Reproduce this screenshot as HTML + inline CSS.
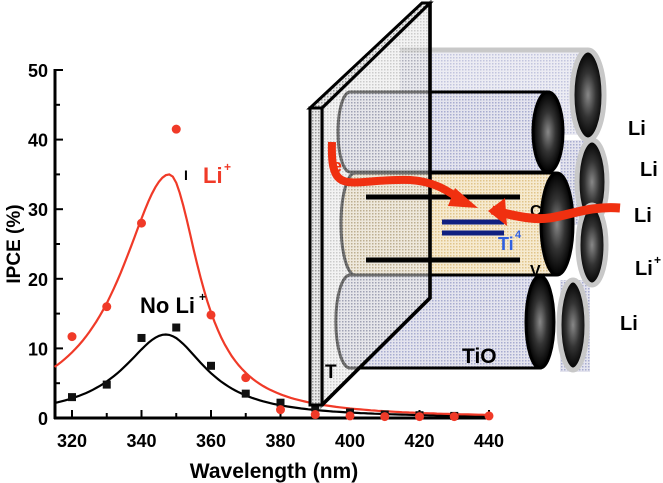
<!DOCTYPE html>
<html><head><meta charset="utf-8"><style>
body{margin:0;background:#fff;width:663px;height:483px;overflow:hidden}
svg{display:block;font-family:"Liberation Sans",sans-serif;font-weight:bold}
</style></head><body>
<svg id="s" width="663" height="483" viewBox="0 0 663 483">
<defs>
<pattern id="dot" width="3" height="3" patternUnits="userSpaceOnUse"><rect width="3" height="3" fill="#e4e4ee"/><rect width="1.5" height="1.5" fill="#a8acd0"/></pattern>
<pattern id="dotg" width="3" height="3" patternUnits="userSpaceOnUse"><rect width="3" height="3" fill="#e8e8e8"/><rect width="1.5" height="1.5" fill="#999"/></pattern>
<pattern id="doto" width="3" height="3" patternUnits="userSpaceOnUse"><rect width="3" height="3" fill="#f6ead0"/><rect width="1.5" height="1.5" fill="#e0c48a"/></pattern>
<radialGradient id="hole" cx="0.5" cy="0.5" r="0.5"><stop offset="0" stop-color="#888"/><stop offset="0.5" stop-color="#333"/><stop offset="1" stop-color="#000"/></radialGradient>
</defs>
<g id="plot"></g>
<g stroke-width="5" stroke="#c8c8c8">
<path d="M400 50 H588 V135 H400 Z" fill="url(#dot)" stroke="none" opacity="0.7"/>
<path d="M400 50 H588" fill="none"/>
<path d="M560 140 H592 V225 H560 Z" fill="url(#dot)" stroke="none"/>
<path d="M560 280 H590 V372 H560 Z" fill="url(#dot)" stroke="none"/>
<ellipse cx="588" cy="95" rx="16" ry="45" fill="url(#hole)"/>
<ellipse cx="592" cy="182" rx="15" ry="42" fill="url(#hole)"/>
<ellipse cx="592" cy="245" rx="14" ry="40" fill="url(#hole)"/>
<ellipse cx="573" cy="325" rx="14" ry="45" fill="url(#hole)"/>
</g>
<g stroke="#000" stroke-width="3">
<path d="M350 92 H548 V172 H350 A12 40 0 0 1 350 92 Z" fill="url(#dot)"/>
<ellipse cx="548" cy="132" rx="15" ry="40" fill="url(#hole)"/>
<path d="M350 275 H540 V368 H350 A14 46 0 0 1 350 275 Z" fill="url(#dot)"/>
<ellipse cx="540" cy="322" rx="14" ry="46" fill="url(#hole)"/>
<path d="M355 173 H555 V275 H355 A14 51 0 0 1 355 173 Z" fill="url(#doto)"/>
<ellipse cx="557" cy="224" rx="16" ry="51" fill="url(#hole)"/>
</g>
<path d="M322 108 L430 3 L430 298 L322 405 Z" fill="url(#dotg)" opacity="0.5" stroke="#000" stroke-width="3.5"/>
<path d="M430 3 L430 298 L322 405" fill="none" stroke="#000" stroke-width="3.5"/>
<path d="M310 108 L422 3 L430 3 L322 108 Z" fill="url(#dotg)" stroke="#000" stroke-width="3"/>
<rect x="310" y="108" width="12" height="297" fill="url(#dotg)" stroke="#000" stroke-width="3"/>
<g stroke-width="5">
<line x1="366" y1="197" x2="520" y2="197" stroke="#000"/>
<line x1="366" y1="260" x2="520" y2="260" stroke="#000"/>
<line x1="442" y1="222" x2="504" y2="222" stroke="#102080"/>
<line x1="442" y1="233" x2="504" y2="233" stroke="#102080"/>
</g>
<text x="530" y="216" font-size="16">C</text>
<text x="530" y="276" font-size="16">V</text>
<text x="498" y="250" font-size="18" fill="#3060e0">Ti</text>
<text x="515" y="238" font-size="11" fill="#3060e0">4</text>
<path d="M332 142 C330 200 350 178 410 180 C440 182 452 195 462 200" fill="none" stroke="#f03010" stroke-width="8"/>
<path d="M455 188 L478 208 L448 206 Z" fill="#f03010"/>
<path d="M620 208 C580 205 560 222 530 218 C512 216 500 212 492 210" fill="none" stroke="#f03010" stroke-width="9"/>
<path d="M505 198 L488 211 L507 226 Z" fill="#f03010"/>
<text x="332" y="172" font-size="18" fill="#f03010">e</text>
<g font-size="20" fill="#000">
<text x="628" y="135">Li</text>
<text x="640" y="176">Li</text>
<text x="634" y="222">Li</text>
<text x="635" y="275">Li</text><text x="654" y="264" font-size="12">+</text>
<text x="620" y="330">Li</text>
<text x="462" y="363" font-size="21">TiO</text>
<text x="325" y="378" font-size="19">T</text>
</g>
</svg>
<script>
const g=document.getElementById('plot');
const X=v=>72+(v-320)*3.475, Y=v=>418-v*6.96;
let h='';
h+=`<line x1="55" y1="69" x2="55" y2="419" stroke="#000" stroke-width="3"/>`;
h+=`<line x1="54" y1="418" x2="491" y2="418" stroke="#000" stroke-width="3"/>`;
for(let v=0;v<=50;v+=5){const y=Y(v);h+=`<line x1="55" y1="${y}" x2="${v%10?60:63}" y2="${y}" stroke="#000" stroke-width="2"/>`;if(v%10==0)h+=`<text x="48" y="${y+7}" font-size="18" text-anchor="end">${v}</text>`;}
for(let v=320;v<=440;v+=10){const x=X(v);h+=`<line x1="${x}" y1="418" x2="${x}" y2="${v%20?413:410}" stroke="#000" stroke-width="2"/>`;if(v%20==0)h+=`<text x="${x}" y="447" font-size="18" text-anchor="middle">${v}</text>`;}
h+=`<line x1="489" y1="418" x2="489" y2="410" stroke="#000" stroke-width="2"/>`;
h+=`<text x="274" y="478" font-size="21" text-anchor="middle">Wavelength (nm)</text>`;
h+=`<text transform="translate(20,244) rotate(-90)" font-size="19" text-anchor="middle">IPCE (%)</text>`;
function curve(A,c,wl,wr,col){let p='';for(let v=315;v<=440;v+=1){const w=v<c?wl:wr;const y=A/(1+((v-c)/w)**2);p+=(p?'L':'M')+X(v).toFixed(1)+' '+Y(y).toFixed(1);}return `<path d="${p}" fill="none" stroke="${col}" stroke-width="2.2"/>`;}
h+=curve(12,347,15,14,'#000');
h+=curve(35,348,17,10.5,'#f03a28');
const bs=[[320,3],[330,4.8],[340,11.5],[350,13],[360,7.5],[370,3.5],[380,2.2],[390,1.5],[400,0.8],[410,0.5],[420,0.4],[430,0.3]];
bs.forEach(([a,b])=>h+=`<rect x="${X(a)-4}" y="${Y(b)-4}" width="8" height="8" fill="#111"/>`);
const rs=[[320,11.7],[330,16],[340,28],[350,41.5],[360,14.8],[370,5.8],[380,1.2],[390,0.5],[400,0.3],[410,0.2],[420,0.2],[430,0.2],[440,0.3]];
rs.forEach(([a,b])=>h+=`<circle cx="${X(a)}" cy="${Y(b)}" r="4.5" fill="#f03a28"/>`);
h+=`<text x="184" y="180" font-size="14">I</text>`;
h+=`<text x="203" y="183" font-size="22" fill="#f03a28">Li</text><text x="224" y="171" font-size="12" fill="#f03a28">+</text>`;
h+=`<text x="140" y="313" font-size="22">No Li</text><text x="199" y="301" font-size="12">+</text>`;
g.innerHTML=h;
</script>
</body></html>
